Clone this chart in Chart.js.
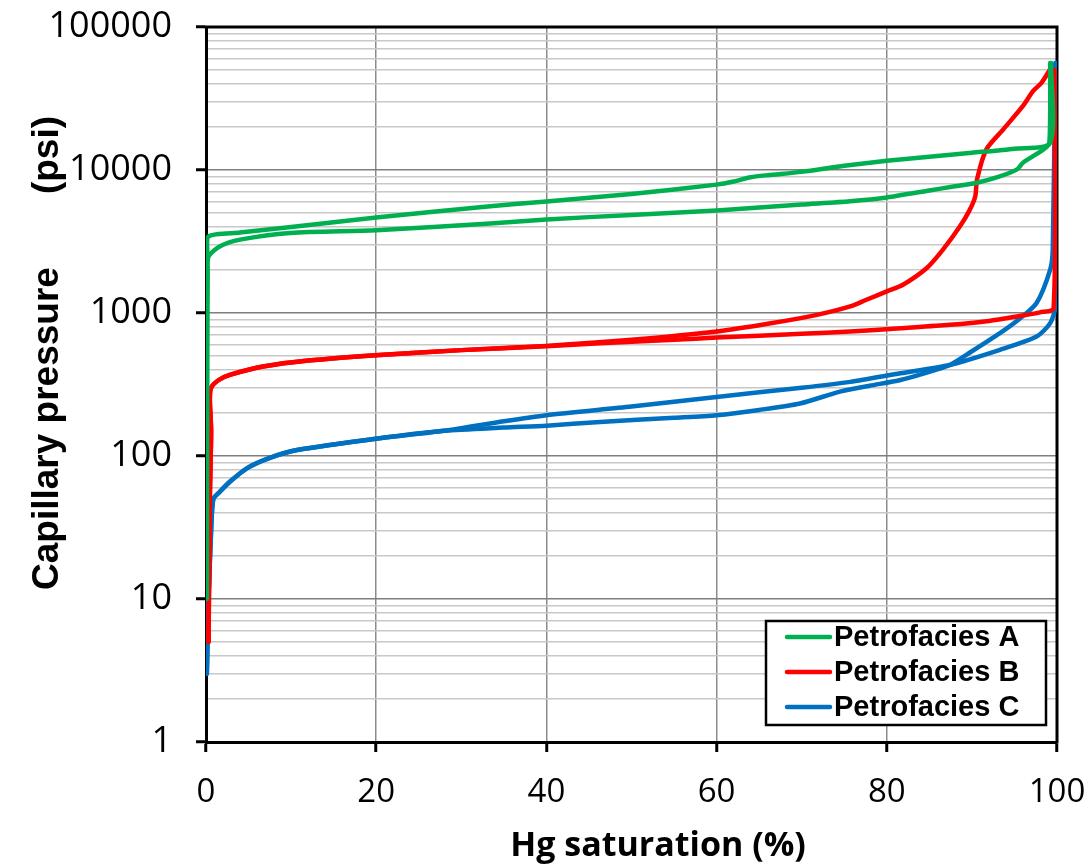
<!DOCTYPE html>
<html>
<head>
<meta charset="utf-8">
<script src="https://cdn.jsdelivr.net/npm/chart.js@4.4.0/dist/chart.umd.min.js"></script>
<style>
  html, body { margin: 0; padding: 0; background: #ffffff; }
  #wrap { width: 1089px; height: 867px; }
</style>
</head>
<body>
<div id="wrap"><canvas id="c" width="1089" height="867"></canvas></div>
<script>
// ---------------- DATA ----------------
const xTicks = [0, 20, 40, 60, 80, 100];
const yMajorTicks = [1, 10, 100, 1000, 10000, 100000];

const seriesNames = ['Petrofacies A', 'Petrofacies B', 'Petrofacies C'];
const seriesColors = ['#00B050', '#FF0000', '#0070C0'];

// Petrofacies A, sample 1 (upper curve)
const satA1 = [0.15, 0.3, 4, 10, 20, 33.4, 40, 50, 60, 62, 64, 66, 70, 75, 80, 85, 90, 95, 99.2, 99.3];
const pcA1  = [2600, 3440, 3650, 4000, 4650, 5580, 6030, 6800, 7900, 8300, 8900, 9200, 9700, 10700, 11600, 12400, 13200, 14100, 15500, 55900];
// Petrofacies A, sample 2 (lower curve)
const satA2 = [0.1, 0.15, 0.2, 0.3, 1.65, 4, 9.9, 20, 33.4, 40, 50, 60, 70, 75.7, 80, 85, 88, 90.6, 93, 95.3, 96, 98.4, 99.1, 99.2];
const pcA2  = [10, 300, 2000, 2490, 2930, 3260, 3630, 3790, 4220, 4510, 4850, 5210, 5740, 6050, 6430, 7190, 7700, 8150, 8900, 10100, 11250, 13900, 15500, 55900];

// Petrofacies B, sample 1 (steep upper branch)
const satB1 = [0.3, 0.45, 0.6, 0.45, 0.6, 1.5, 2.8, 6.7, 12, 20.4, 30, 40, 50, 60, 66, 71.8, 75.7, 77.6, 80, 81.9, 84.7, 86.6, 88.6, 89.7, 90.4, 90.6, 91.7, 93.7, 96, 97.2, 98.2, 99.2];
const pcB1  = [5, 50, 150, 250, 300, 340, 369, 422, 465, 509, 550, 589, 649, 742, 840, 971, 1111, 1238, 1416, 1577, 2065, 2775, 4040, 5200, 6560, 8590, 13940, 19270, 28060, 35700, 40900, 50700];
// Petrofacies B, sample 2 (flat lower branch)
const satB2 = [0.3, 0.45, 0.6, 0.45, 0.6, 1.5, 2.8, 6.7, 12, 20.4, 30, 40, 46.3, 55, 60, 70, 75.7, 81.6, 87.4, 92, 95.3, 98, 99.6, 99.7];
const pcB2  = [5, 50, 150, 250, 300, 340, 369, 422, 465, 509, 550, 585, 615, 650, 673, 715, 742, 783, 827, 880, 945, 1010, 1082, 50000];

// Petrofacies C, sample 1
const satC1 = [0.1, 0.3, 0.6, 0.86, 1.6, 2.8, 4.8, 7.5, 10.7, 20.4, 28, 35, 40, 50, 60, 70, 75.7, 81.6, 87.4, 93.3, 97.6, 99.2, 99.8, 99.9];
const pcC1  = [3, 10, 30, 50, 56, 66, 82, 97, 110, 133, 150, 175, 193, 222, 259, 300, 330, 379, 433, 552, 684, 849, 1110, 55900];
// Petrofacies C, sample 2
const satC2 = [0.1, 0.3, 0.6, 0.86, 1.6, 2.8, 4.8, 7.5, 10.7, 20.4, 28, 35, 40, 46.3, 55, 60, 65, 69.8, 74.5, 78, 81.6, 84.5, 87.4, 90, 93.3, 95.5, 97.6, 99.2, 99.5, 99.8];
const pcC2  = [3, 10, 30, 50, 56, 66, 82, 97, 110, 133, 150, 158, 163, 173, 185, 193, 210, 233, 282, 310, 340, 380, 433, 540, 723, 900, 1175, 2010, 2775, 55900];

const xTitle = 'Hg saturation (%)';
const yTitle = 'Capillary pressure  (psi)';

// ---------------- BUILD ----------------
function pts(xs, ys) { return xs.map((x, i) => ({ x: x, y: ys[i] })); }
function ds(name, color, xs, ys) {
  return {
    label: name, data: pts(xs, ys), showLine: true, borderColor: color,
    backgroundColor: color, borderWidth: 4.5, pointRadius: 0, tension: 0.25,
    borderJoinStyle: 'round', borderCapStyle: 'round'
  };
}
const datasets = [
  ds(seriesNames[0], seriesColors[0], satA1, pcA1),
  ds(seriesNames[0], seriesColors[0], satA2, pcA2),
  ds(seriesNames[1], seriesColors[1], satB1, pcB1),
  ds(seriesNames[1], seriesColors[1], satB2, pcB2),
  ds(seriesNames[2], seriesColors[2], satC1, pcC1),
  ds(seriesNames[2], seriesColors[2], satC2, pcC2)
];

// all log tick positions (1..9 x 10^n)
const yAllTicks = [];
yMajorTicks.forEach((m, i) => {
  if (i < yMajorTicks.length - 1) { for (let k = 1; k <= 9; k++) yAllTicks.push(k * m); }
  else yAllTicks.push(m);
});

const framePlugin = {
  id: 'frame',
  beforeDatasetsDraw(chart) {
    const { ctx, chartArea: a } = chart;
    ctx.save();
    ctx.strokeStyle = '#000';
    ctx.lineWidth = 3;
    ctx.beginPath();
    ctx.moveTo(a.left - 1.5, a.top);
    ctx.lineTo(a.right, a.top);
    ctx.lineTo(a.right, a.bottom + 1.5);
    ctx.stroke();
    ctx.restore();
  },
  afterDraw(chart) {
    const { ctx } = chart;
    ctx.save();
    // axis titles
    ctx.fillStyle = '#000';
    ctx.textAlign = 'center';
    ctx.textBaseline = 'middle';
    ctx.font = 'bold 34px "Open Sans"';
    ctx.fillText(xTitle, 658, 846);
    // y title: rotated, the unit part sits further up as in the original layout
    ctx.translate(48, 590);
    ctx.rotate(-Math.PI / 2);
    ctx.font = 'bold 37px "Liberation Sans"';
    const parts = yTitle.split(/\s{2,}/);
    ctx.textAlign = 'left';
    ctx.fillText(parts[0], 0, 0);
    if (parts[1]) {
      ctx.textAlign = 'right';
      ctx.fillText(parts[1], 590 - 116, 0);
    }
    ctx.restore();

    // legend
    ctx.save();
    const bx = 766, by = 621, bw = 280, bh = 104;
    ctx.fillStyle = '#fff';
    ctx.fillRect(bx, by, bw, bh);
    ctx.strokeStyle = '#000';
    ctx.lineWidth = 2.5;
    ctx.strokeRect(bx, by, bw, bh);
    ctx.font = 'bold 29px "Liberation Sans"';
    ctx.textAlign = 'left';
    ctx.textBaseline = 'middle';
    seriesNames.forEach((n, i) => {
      const y = 637 + i * 35;
      ctx.strokeStyle = seriesColors[i];
      ctx.lineWidth = 4.5;
      ctx.lineCap = 'round';
      ctx.beginPath();
      ctx.moveTo(787, y);
      ctx.lineTo(830, y);
      ctx.stroke();
      ctx.fillStyle = '#000';
      ctx.fillText(n, 834, y + 1);
    });
    ctx.restore();
  }
};

new Chart(document.getElementById('c'), {
  type: 'scatter',
  data: { datasets: datasets },
  options: {
    responsive: false,
    animation: false,
    layout: { padding: { top: 27, right: 32, left: 0, bottom: 0 } },
    plugins: { legend: { display: false }, tooltip: { enabled: false } },
    scales: {
      x: {
        type: 'linear', min: 0, max: 100,
        afterFit(s) { s.height = 125; s.paddingLeft = 0; s.paddingRight = 0; },
        afterBuildTicks(s) { s.ticks = xTicks.map(v => ({ value: v })); },
        grid: { color: '#8c8c8c', lineWidth: 1.5, tickColor: '#000', tickWidth: 3, tickLength: 10 },
        border: { color: '#000', width: 3 },
        ticks: { color: '#000', padding: 21, font: { family: 'Open Sans', size: 33 } }
      },
      y: {
        type: 'logarithmic', min: 1, max: 100000,
        afterFit(s) { s.width = 206; s.paddingTop = 0; s.paddingBottom = 0; },
        afterBuildTicks(s) { s.ticks = yAllTicks.map(v => ({ value: v })); },
        grid: {
          color: c => (c.tick && yMajorTicks.includes(c.tick.value)) ? '#7f7f7f' : '#c8c8c8',
          lineWidth: 1.5,
          tickColor: c => (c.tick && yMajorTicks.includes(c.tick.value)) ? '#000' : 'rgba(0,0,0,0)',
          tickWidth: 3, tickLength: 10
        },
        border: { color: '#000', width: 3 },
        ticks: {
          color: '#000', padding: 24, autoSkip: false,
          font: { family: 'Open Sans', size: 36 },
          callback: v => yMajorTicks.includes(v) ? String(v) : ''
        }
      }
    }
  },
  plugins: [framePlugin]
});
</script>
</body>
</html>
